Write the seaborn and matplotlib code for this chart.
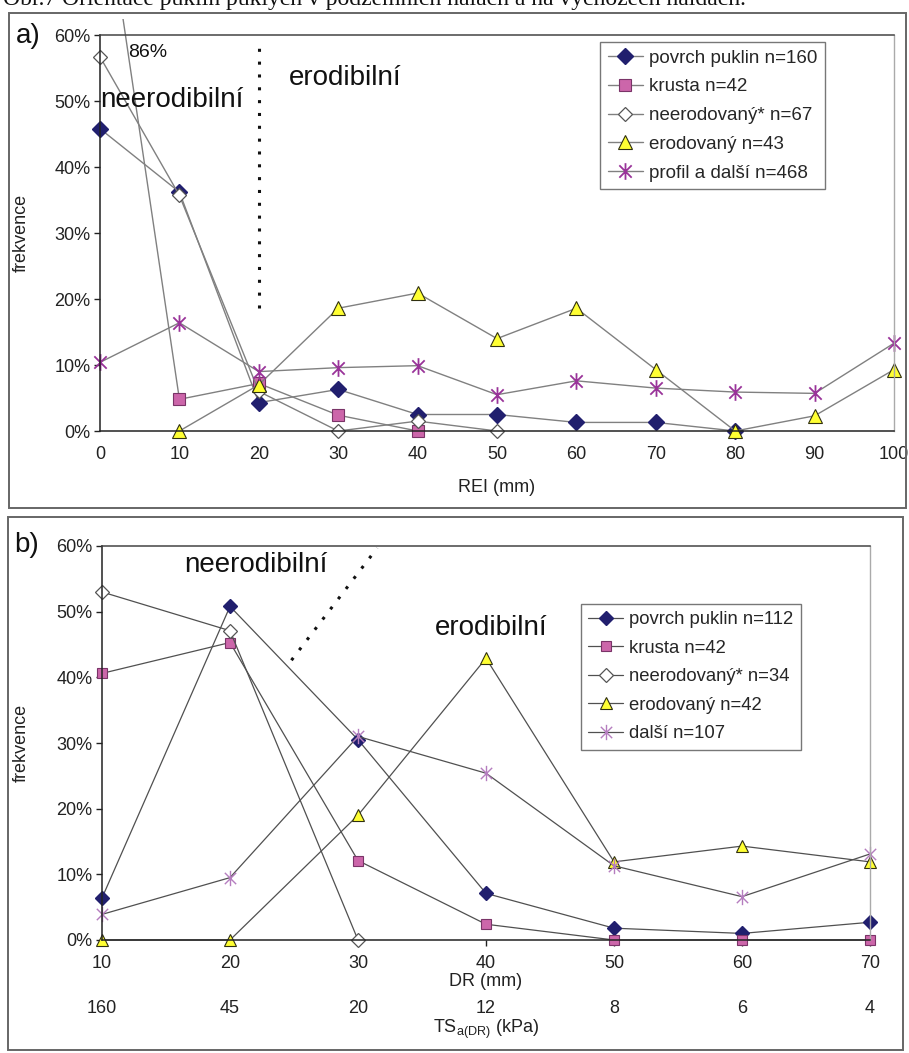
import numpy as np
import pandas as pd
import seaborn as sns
import matplotlib
matplotlib.use("Agg")
import matplotlib.pyplot as plt
from matplotlib.path import Path
from matplotlib.patches import Rectangle
from matplotlib.ticker import PercentFormatter

# ---------------- data ----------------
rei_x = [0, 10, 20, 30, 40, 50, 60, 70, 80, 90, 100]
a_povrch = [45.8, 36.2, 4.3, 6.3, 2.5, 2.5, 1.3, 1.3, 0.0, np.nan, np.nan]
a_krusta = [86.0, 4.8, 7.2, 2.4, 0.0, np.nan, np.nan, np.nan, np.nan, np.nan, np.nan]
a_neerod = [56.7, 35.7, 6.0, 0.0, 1.5, 0.0, np.nan, np.nan, np.nan, np.nan, np.nan]
a_erod = [np.nan, 0.0, 7.0, 18.6, 20.9, 14.0, 18.6, 9.3, 0.0, 2.3, 9.3]
a_profil = [10.4, 16.4, 9.0, 9.6, 9.9, 5.5, 7.6, 6.5, 5.9, 5.7, 13.3]
a_labels = ["povrch puklin n=160", "krusta n=42", "neerodovaný* n=67",
            "erodovaný n=43", "profil a další n=468"]

dr_x = [10, 20, 30, 40, 50, 60, 70]
ts_labels = ["160", "45", "20", "12", "8", "6", "4"]
b_povrch = [6.4, 50.8, 30.5, 7.1, 1.8, 1.0, 2.7]
b_krusta = [40.6, 45.3, 12.1, 2.4, 0.0, 0.0, 0.0]
b_neerod = [53.0, 47.1, 0.0, np.nan, np.nan, np.nan, np.nan]
b_erod = [0.0, 0.0, 19.0, 42.9, 11.9, 14.3, 11.9]
b_dalsi = [3.9, 9.5, 31.0, 25.4, 11.3, 6.6, 13.1]
b_labels = ["povrch puklin n=112", "krusta n=42", "neerodovaný* n=34",
            "erodovaný n=42", "další n=107"]

# ---------------- style ----------------
sns.set_theme(style="white")
plt.rcParams["font.family"] = ["Liberation Sans", "DejaVu Sans"]
plt.rcParams["mathtext.fontset"] = "custom"
plt.rcParams["mathtext.rm"] = "Liberation Sans"

ast = Path([(-1, -1), (1, 1), (-1, 1), (1, -1), (0, -1.35), (0, 1.35)],
           [Path.MOVETO, Path.LINETO] * 3)

NAVY = "#211f6e"
PINK = "#cc66aa"
YEL = "#ffff33"


def styles(line_col, ast_col, ast_lw, scale=1.0):
    return [
        dict(marker="D", markersize=8 * scale, markerfacecolor=NAVY, markeredgecolor=NAVY,
             markeredgewidth=1.0, color=line_col),
        dict(marker="s", markersize=8.5 * scale, markerfacecolor=PINK, markeredgecolor="#7a3468",
             markeredgewidth=0.8, color=line_col),
        dict(marker="D", markersize=7.5 * scale, markerfacecolor="white", markeredgecolor="#555555",
             markeredgewidth=0.9, color=line_col),
        dict(marker="^", markersize=10 * scale, markerfacecolor=YEL, markeredgecolor="#303010",
             markeredgewidth=0.8, color=line_col),
        dict(marker=ast, markersize=12 * scale, markerfacecolor="none", markeredgecolor=ast_col,
             markeredgewidth=ast_lw, color=line_col),
    ]


W, H = 909, 1053
fig = plt.figure(figsize=(W / 100, H / 100), dpi=100)
fig.patch.set_facecolor("white")

# panel frames
for (x0, y0, x1, y1) in [(9, 13, 906, 508), (8, 517, 903, 1050)]:
    fig.patches.append(Rectangle((x0 / W, 1 - y1 / H), (x1 - x0) / W, (y1 - y0) / H,
                                 transform=fig.transFigure, fill=False,
                                 edgecolor="#666666", linewidth=1.4))

# caption (clipped at top, as in the scan)
fig.text(3 / W, 1 - 5 / H, "Obr.7 Orientace puklin puklých v podzemních halách a na výchozech haldách.",
         family="Liberation Serif", fontsize=17, va="baseline", ha="left", color="#111111")

axA = fig.add_axes([100 / W, 1 - 431 / H, 794 / W, 396 / H])
axB = fig.add_axes([102 / W, 1 - 940 / H, 768 / W, 394 / H])


def draw(ax, xs, series, labels, st, lw):
    for vals, lab, s in zip(series, labels, st):
        df = pd.DataFrame({"x": xs, "y": vals}).dropna()
        sns.lineplot(data=df, x="x", y="y", ax=ax, estimator=None, sort=False,
                     linewidth=lw, label=lab, legend=False, **s)
    clip = Rectangle((-0.025, -0.05), 1.05, 1.09, transform=ax.transAxes)
    for ln in ax.lines:
        ln.set_clip_path(clip)


def frame(ax):
    ax.set_facecolor("white")
    for side in ["left", "bottom"]:
        ax.spines[side].set_color("#222222")
        ax.spines[side].set_linewidth(1.1)
    ax.spines["top"].set_color("#444444")
    ax.spines["top"].set_linewidth(1.1)
    ax.spines["right"].set_color("#aaaaaa")
    ax.spines["right"].set_linewidth(1.0)
    ax.set_ylim(0, 60)
    ax.set_yticks([0, 10, 20, 30, 40, 50, 60])
    ax.yaxis.set_major_formatter(PercentFormatter(decimals=0))
    ax.tick_params(axis="y", left=True, length=4, width=1, pad=3, labelsize=13,
                   color="#222222", labelcolor="#222222")
    ax.set_ylabel("frekvence", fontsize=13, color="#222222")


LEG = dict(borderaxespad=0, frameon=True, fancybox=False, framealpha=1,
           edgecolor="#777777", labelspacing=0.62, handlelength=1.9, handletextpad=0.3,
           borderpad=0.4)

# ---------------- panel a ----------------
draw(axA, rei_x, [a_povrch, a_krusta, a_neerod, a_erod, a_profil], a_labels,
     styles("#808080", "#993399", 1.3), 1.0)
frame(axA)
axA.set_xlim(0, 100)
axA.set_xticks(rei_x)
axA.tick_params(axis="x", bottom=True, length=0, pad=11, labelsize=13, labelcolor="#222222")
axA.set_xlabel("REI (mm)", fontsize=13, color="#222222")
axA.xaxis.set_label_coords(0.5, -0.122)
axA.yaxis.set_label_coords(-0.088, 0.5)
axA.plot([20, 20], [18.6, 59.2], linestyle=(0, (1, 3.2)), color="#111111", linewidth=2.2)
axA.text(0, 50.2, "neerodibilní", fontsize=20, ha="left", va="center", color="#111111")
axA.text(23.8, 53.5, "erodibilní", fontsize=20, ha="left", va="center", color="#111111")
axA.text(3.5, 57.4, "86%", fontsize=14, ha="left", va="center", color="#111111")
axA.legend(loc="upper left", bbox_to_anchor=(600 / W, 1 - 42 / H), bbox_transform=fig.transFigure,
           fontsize=13.5, **LEG)
axA.get_legend().get_frame().set_linewidth(1.0)
fig.text(16 / W, 1 - 36 / H, "a)", fontsize=20, ha="left", va="center", color="#111111")

# ---------------- panel b ----------------
draw(axB, dr_x, [b_povrch, b_krusta, b_neerod, b_erod, b_dalsi], b_labels,
     styles("#505050", "#b57dbf", 1.0, 0.92), 0.9)
frame(axB)
axB.set_xlim(10, 70)
axB.set_xticks(dr_x)
axB.tick_params(axis="x", bottom=True, length=4, width=1, pad=6.5, labelsize=13,
                color="#222222", labelcolor="#222222")
axB.set_xlabel("DR (mm)", fontsize=13, color="#222222")
axB.xaxis.set_label_coords(0.5, -0.083)
axB.yaxis.set_label_coords(-0.094, 0.5)
sec = axB.secondary_xaxis(-0.152)
sec.set_xticks(dr_x, labels=ts_labels)
sec.spines["bottom"].set_visible(False)
sec.tick_params(axis="x", length=0, pad=0, labelsize=13, labelcolor="#222222")
sec.set_xlabel(r"TS$_{\mathregular{a(DR)}}$ (kPa)", fontsize=13, color="#222222", labelpad=1)
axB.plot([24.8, 31.5], [42.6, 59.7], linestyle=(0, (1, 3.2)), color="#111111", linewidth=2.2)
axB.text(22.0, 57.1, "neerodibilní", fontsize=20, ha="center", va="center", color="#111111")
axB.text(40.4, 47.5, "erodibilní", fontsize=20, ha="center", va="center", color="#111111")
axB.legend(loc="upper left", bbox_to_anchor=(581 / W, 1 - 604 / H), bbox_transform=fig.transFigure,
           fontsize=13.3, **LEG)
axB.get_legend().get_frame().set_linewidth(1.0)
fig.text(14 / W, 1 - 545 / H, "b)", fontsize=20, ha="left", va="center", color="#111111")

fig.savefig("out.png", dpi=100, facecolor="white")
